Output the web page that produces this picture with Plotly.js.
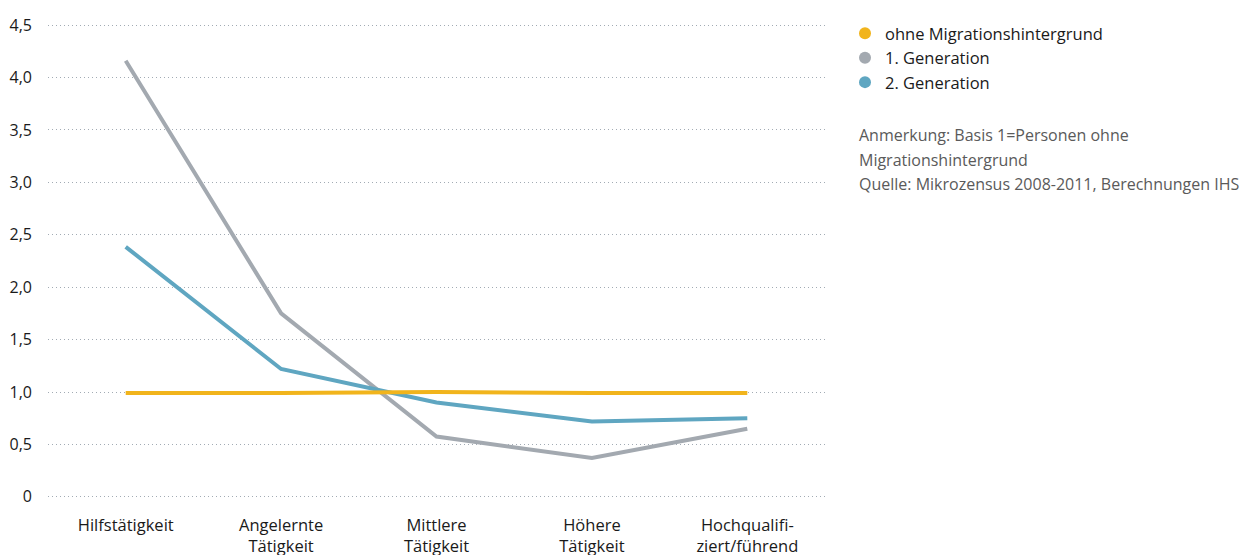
<!DOCTYPE html>
<html>
<head>
<meta charset="utf-8">
<script src="https://cdn.plot.ly/plotly-3.0.1.min.js"></script>
<style>html,body{margin:0;padding:0;background:#fff;}#chart{width:1259px;height:555px;}</style>
</head>
<body>
<div id="chart"></div>
<script>
const categories = ["Hilfstätigkeit", "Angelernte<br>Tätigkeit", "Mittlere<br>Tätigkeit", "Höhere<br>Tätigkeit", "Hochqualifi-<br>ziert/führend"];
const seriesNames = ["ohne Migrationshintergrund", "1. Generation", "2. Generation"];
const ohneMigration = [0.99, 0.99, 1.0, 0.99, 0.99];
const generation1 = [4.16, 1.75, 0.575, 0.37, 0.65];
const generation2 = [2.385, 1.22, 0.90, 0.72, 0.75];
const yTickVals = [0, 0.5, 1, 1.5, 2, 2.5, 3, 3.5, 4, 4.5];
const yTickText = ["0", "0,5", "1,0", "1,5", "2,0", "2,5", "3,0", "3,5", "4,0", "4,5"];
const noteLines = ["Anmerkung: Basis 1=Personen ohne", "Migrationshintergrund", "Quelle: Mikrozensus 2008-2011, Berechnungen IHS"];

const colors = ["#f1b41c", "#a3a9b0", "#5fa6c1"];
const seriesData = [ohneMigration, generation1, generation2];
const FONT = "'Open Sans', 'Noto Sans', sans-serif";

const traces = [];
[1, 2, 0].forEach(i => {
  traces.push({
    type: "scatter", mode: "lines", x: categories, y: seriesData[i],
    line: {color: colors[i], width: 4},
    showlegend: false, hoverinfo: "skip"
  });
});
seriesNames.forEach((n, i) => {
  traces.push({
    type: "scatter", mode: "markers", x: [null], y: [null], name: n,
    legendgroup: "g" + i,
    marker: {color: colors[i], size: 12}, showlegend: true, hoverinfo: "skip"
  });
});

const plotTop = 22, plotBottom = 500, plotH = plotBottom - plotTop;
const plotLeft = 48, plotW = 777;
const annY = [135, 160, 184];
const annotations = noteLines.map((t, i) => ({
  text: t, xref: "paper", yref: "paper",
  x: (857 - plotLeft) / plotW, y: (plotBottom - annY[i]) / plotH,
  xanchor: "left", yanchor: "middle", showarrow: false,
  font: {family: FONT, size: 16, color: "#5a5a5a"}
}));

const layout = {
  width: 1259, height: 555,
  margin: {l: plotLeft, r: 1259 - plotLeft - plotW, t: plotTop, b: 555 - plotBottom},
  paper_bgcolor: "#fff", plot_bgcolor: "#fff",
  font: {family: FONT, size: 16, color: "#1a1a1a"},
  showlegend: true,
  legend: {x: (845 - plotLeft) / plotW, y: (plotBottom - 16) / plotH, xanchor: "left", yanchor: "top",
    font: {family: FONT, size: 16.5, color: "#1a1a1a"}, tracegroupgap: 0, itemwidth: 30,
    traceorder: "grouped", bgcolor: "rgba(0,0,0,0)"},
  xaxis: {type: "category", range: [-0.5, 4.5], showgrid: false, zeroline: false,
    showline: false, ticks: "", tickfont: {family: FONT, size: 16.5, color: "#1a1a1a"},
    ticklabelstandoff: 13, fixedrange: true},
  yaxis: {range: [-0.03, 4.53], tickvals: yTickVals, ticktext: yTickText, showgrid: true,
    gridcolor: "#a2abb4", gridwidth: 1, griddash: "1px,3px", zeroline: false, showline: false,
    ticks: "", tickfont: {family: FONT, size: 16, color: "#1a1a1a"}, ticklabelstandoff: 15,
    fixedrange: true},
  annotations: annotations
};

Plotly.newPlot("chart", traces, layout, {displayModeBar: false, staticPlot: true});
</script>
</body>
</html>
